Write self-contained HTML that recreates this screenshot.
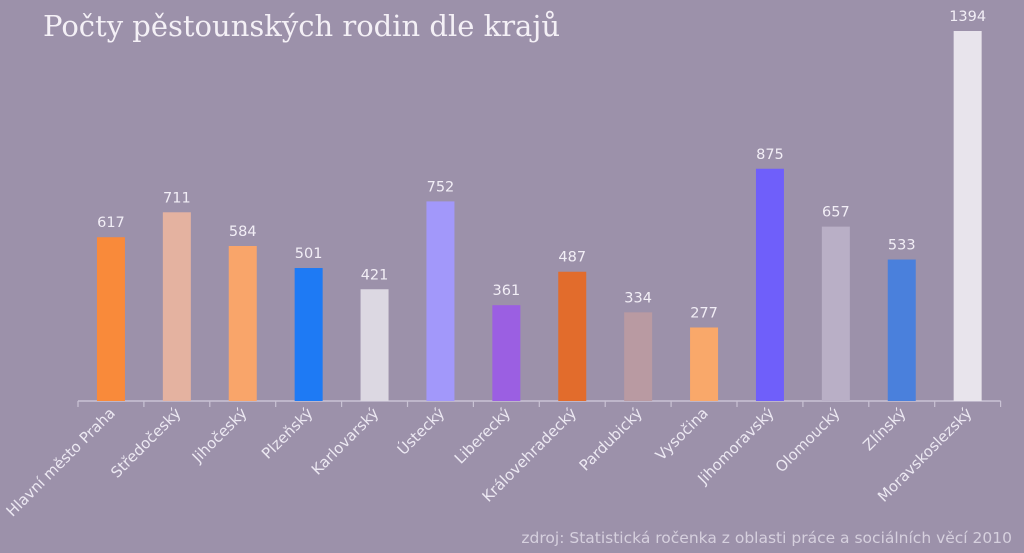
<!DOCTYPE html>
<html><head><meta charset="utf-8"><style>
html,body{margin:0;padding:0;background:#9c91aa;}
svg{display:block;}
</style></head><body>
<svg width="1024" height="553" viewBox="0 0 1024 553" xmlns="http://www.w3.org/2000/svg">
<rect x="0" y="0" width="1024" height="553" fill="#9c91aa"/>
<text x="43" y="36" font-family="'DejaVu Serif','Liberation Serif',serif" font-size="29" fill="#f4f0f6">Počty pěstounských rodin dle krajů</text>
<text x="1012" y="543" text-anchor="end" font-family="'DejaVu Sans','Liberation Sans',sans-serif" font-size="15.5" fill="#d6d0de">zdroj: Statistická ročenka z oblasti práce a sociálních věcí 2010</text>
<g id="plot"></g>
</svg>
<script>
const categories=["Hlavní město Praha","Středočeský","Jihočeský","Plzeňský","Karlovarský","Ústecký","Liberecký","Královehradecký","Pardubický","Vysočina","Jihomoravský","Olomoucký","Zlínský","Moravskoslezský"];
const values=[617,711,584,501,421,752,361,487,334,277,875,657,533,1394];
const colors=["#f98a3a","#e4b2a0","#f9a56a","#1e7af4","#dcd8e2","#a298fa","#9b5fe2","#e26c2c","#b99aa2","#f9a86a","#6f5ffa","#b9afc6","#4a80dc","#e8e4ec"];
const ns="http://www.w3.org/2000/svg";
const g=document.getElementById('plot');
const x0=78,step=65.9,baseY=401,scale=370/1394,bw=28;
function xc(i){return x0+step*(i+0.5);}
function yv(v){return baseY-v*scale;}
const axis=document.createElementNS(ns,'line');


axis.setAttribute('x1',x0);axis.setAttribute('x2',x0+step*categories.length);
axis.setAttribute('y1',baseY);axis.setAttribute('y2',baseY);
axis.setAttribute('stroke','#c9c2d4');axis.setAttribute('stroke-width','1.5');
g.appendChild(axis);
for(let i=0;i<=categories.length;i++){
 const t=document.createElementNS(ns,'line');
 
 
 const x=x0+step*i;
 t.setAttribute('x1',x);t.setAttribute('x2',x);t.setAttribute('y1',baseY);t.setAttribute('y2',baseY+6);
 t.setAttribute('stroke','#c9c2d4');t.setAttribute('stroke-width','1.2');
 g.appendChild(t);
}
values.forEach((v,i)=>{
 const r=document.createElementNS(ns,'rect');
 
 
 r.setAttribute('x',xc(i)-bw/2);r.setAttribute('y',yv(v));
 r.setAttribute('width',bw);r.setAttribute('height',baseY-yv(v));
 r.setAttribute('fill',colors[i]);
 g.appendChild(r);
 const lab=document.createElementNS(ns,'text');
 
 
 lab.setAttribute('x',xc(i));lab.setAttribute('y',yv(v)-10);
 lab.setAttribute('text-anchor','middle');
 lab.setAttribute('font-family',"'DejaVu Sans','Liberation Sans',sans-serif");
 lab.setAttribute('font-size','14.5');lab.setAttribute('fill','#f2eef6');
 lab.textContent=v;
 g.appendChild(lab);
 const c=document.createElementNS(ns,'text');
 
 
 const lx=xc(i)+5,ly=baseY+13;
 c.setAttribute('x',lx);c.setAttribute('y',ly);
 c.setAttribute('text-anchor','end');
 c.setAttribute('transform','rotate(-45 '+lx+' '+ly+')');
 c.setAttribute('font-family',"'DejaVu Sans','Liberation Sans',sans-serif");
 c.setAttribute('font-size','15');c.setAttribute('fill','#ece8f2');
 c.textContent=categories[i];
 g.appendChild(c);
});
</script>
</body></html>
